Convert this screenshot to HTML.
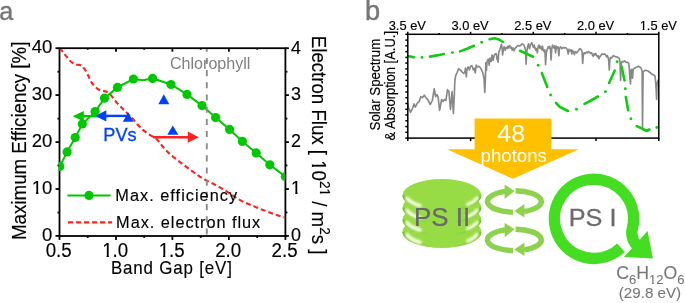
<!DOCTYPE html>
<html><head><meta charset="utf-8"><style>
html,body{margin:0;padding:0;background:#fff;}
body{width:685px;height:303px;position:relative;overflow:hidden;font-family:"Liberation Sans", sans-serif;}
</style></head><body>
<svg xmlns="http://www.w3.org/2000/svg" width="685" height="303" viewBox="0 0 685 303" style="position:absolute;left:0;top:0;will-change:transform">
<defs><clipPath id="ca"><rect x="58.6" y="49.0" width="225.8" height="185.7"/></clipPath>
<clipPath id="cb"><rect x="408" y="34" width="251" height="104"/></clipPath></defs>
<text transform="translate(-0.70,20.00) scale(0.960,1.000)" font-size="26.20" fill="#767676" stroke="#767676" stroke-width="0.40" text-anchor="start" style="font-family:'Liberation Sans', sans-serif">a</text>
<text transform="translate(365.10,20.00)" font-size="27.30" fill="#767676" stroke="#767676" stroke-width="0.40" text-anchor="start" style="font-family:'Liberation Sans', sans-serif">b</text>
<g stroke="#000" stroke-width="1.8" fill="none">
<rect x="59.5" y="48.2" width="225.9" height="187.8"/>
<line x1="59.5" y1="235.9" x2="59.5" y2="239.9"/>
<line x1="87.7" y1="235.9" x2="87.7" y2="237.9"/>
<line x1="87.7" y1="48.2" x2="87.7" y2="49.7"/>
<line x1="116.0" y1="235.9" x2="116.0" y2="239.9"/>
<line x1="116.0" y1="48.2" x2="116.0" y2="51.7"/>
<line x1="144.2" y1="235.9" x2="144.2" y2="237.9"/>
<line x1="144.2" y1="48.2" x2="144.2" y2="49.7"/>
<line x1="172.4" y1="235.9" x2="172.4" y2="239.9"/>
<line x1="172.4" y1="48.2" x2="172.4" y2="51.7"/>
<line x1="200.7" y1="235.9" x2="200.7" y2="237.9"/>
<line x1="200.7" y1="48.2" x2="200.7" y2="49.7"/>
<line x1="228.9" y1="235.9" x2="228.9" y2="239.9"/>
<line x1="228.9" y1="48.2" x2="228.9" y2="51.7"/>
<line x1="257.2" y1="235.9" x2="257.2" y2="237.9"/>
<line x1="257.2" y1="48.2" x2="257.2" y2="49.7"/>
<line x1="285.4" y1="235.9" x2="285.4" y2="239.9"/>
<line x1="59.5" y1="235.9" x2="55.5" y2="235.9"/>
<line x1="285.4" y1="235.9" x2="288.9" y2="235.9"/>
<line x1="59.5" y1="212.5" x2="57.5" y2="212.5"/>
<line x1="285.4" y1="212.5" x2="287.4" y2="212.5"/>
<line x1="59.5" y1="189.0" x2="55.5" y2="189.0"/>
<line x1="285.4" y1="189.0" x2="288.9" y2="189.0"/>
<line x1="59.5" y1="165.5" x2="57.5" y2="165.5"/>
<line x1="285.4" y1="165.5" x2="287.4" y2="165.5"/>
<line x1="59.5" y1="142.1" x2="55.5" y2="142.1"/>
<line x1="285.4" y1="142.1" x2="288.9" y2="142.1"/>
<line x1="59.5" y1="118.6" x2="57.5" y2="118.6"/>
<line x1="285.4" y1="118.6" x2="287.4" y2="118.6"/>
<line x1="59.5" y1="95.1" x2="55.5" y2="95.1"/>
<line x1="285.4" y1="95.1" x2="288.9" y2="95.1"/>
<line x1="59.5" y1="71.7" x2="57.5" y2="71.7"/>
<line x1="285.4" y1="71.7" x2="287.4" y2="71.7"/>
<line x1="59.5" y1="48.2" x2="55.5" y2="48.2"/>
<line x1="285.4" y1="48.2" x2="288.9" y2="48.2"/>
</g>
<g clip-path="url(#ca)">
<polyline points="59.5,48.0 61.0,49.5 65.9,55.9 70.9,61.8 75.8,64.8 79.8,64.9 82.7,66.6 85.7,70.7 88.7,76.6 91.6,82.6 94.6,86.5 98.5,89.5 102.5,90.9 106.4,91.6 110.4,94.4 113.4,98.4 117.3,103.3 121.9,107.9 127.8,113.8 132.7,118.7 137.7,124.7 142.6,129.6 147.6,133.6 151.5,135.9 155.5,137.8 158.4,141.1 164.3,148.5 171.0,155.2 176.9,159.7 183.6,164.9 189.5,169.3 194.7,173.0 199.5,176.4 206.5,180.5 213.4,183.9 219.3,187.1 225.3,190.4 231.0,194.5 237.8,198.8 243.7,202.1 251.6,205.3 259.5,208.7 267.5,211.6 275.4,214.6 281.3,216.6 285.5,217.6" fill="none" stroke="#ff2020" stroke-width="2.1" stroke-dasharray="5,3"/>
<polyline points="59.8,166.4 67.1,151.9 75.2,137.5 82.3,124.0 95.1,111.6 104.5,98.2 117.4,87.4 133.4,79.0 143.0,80.2 152.6,78.4 171.0,84.5 187.0,94.4 202.0,105.6 215.6,117.6 229.6,129.4 242.4,141.4 256.2,152.9 269.8,164.8 285.4,176.6" fill="none" stroke="#00c800" stroke-width="2"/>
<circle cx="59.8" cy="166.4" r="4.6" fill="#00c800"/>
<circle cx="67.1" cy="151.9" r="4.6" fill="#00c800"/>
<circle cx="75.2" cy="137.5" r="4.6" fill="#00c800"/>
<circle cx="82.3" cy="124.0" r="4.6" fill="#00c800"/>
<circle cx="95.1" cy="111.6" r="4.6" fill="#00c800"/>
<circle cx="104.5" cy="98.2" r="4.6" fill="#00c800"/>
<circle cx="117.4" cy="87.4" r="4.6" fill="#00c800"/>
<circle cx="133.4" cy="79.0" r="4.6" fill="#00c800"/>
<circle cx="152.6" cy="78.4" r="4.6" fill="#00c800"/>
<circle cx="171.0" cy="84.5" r="4.6" fill="#00c800"/>
<circle cx="187.0" cy="94.4" r="4.6" fill="#00c800"/>
<circle cx="202.0" cy="105.6" r="4.6" fill="#00c800"/>
<circle cx="215.6" cy="117.6" r="4.6" fill="#00c800"/>
<circle cx="229.6" cy="129.4" r="4.6" fill="#00c800"/>
<circle cx="242.4" cy="141.4" r="4.6" fill="#00c800"/>
<circle cx="256.2" cy="152.9" r="4.6" fill="#00c800"/>
<circle cx="269.8" cy="164.8" r="4.6" fill="#00c800"/>
<circle cx="285.4" cy="176.6" r="4.6" fill="#00c800"/>
<line x1="206.8" y1="48" x2="206.8" y2="236" stroke="#8c8c8c" stroke-width="1.9" stroke-dasharray="6.1,6.08" stroke-dashoffset="2.3"/>
</g>
<line x1="82.8" y1="116.2" x2="108.0" y2="116.2" stroke="#00c800" stroke-width="2.4"/>
<polygon points="72.6,116.2 83.8,111.0 83.8,121.4" fill="#00c800"/>
<line x1="105.3" y1="115.9" x2="128.3" y2="115.9" stroke="#0040ff" stroke-width="2.4"/>
<polygon points="95.4,115.9 106.3,110.2 106.3,121.6" fill="#0040ff"/>
<line x1="153.0" y1="137.2" x2="188.8" y2="137.2" stroke="#ff2020" stroke-width="2.4"/>
<polygon points="198.8,137.2 187.8,131.6 187.8,142.8" fill="#ff2020"/>
<polygon points="128.2,112.3 122.8,121.7 133.6,121.7" fill="#0040ff"/>
<polygon points="163.8,94.3 158.3,104.2 169.3,104.2" fill="#0040ff"/>
<polygon points="172.8,125.4 167.3,134.7 178.3,134.7" fill="#0040ff"/>
<text transform="translate(103.30,141.20) scale(0.985,1.000)" font-size="18.40" fill="#0040ff" stroke="#0040ff" stroke-width="0.30" text-anchor="start" style="font-family:'Liberation Sans', sans-serif">PVs</text>
<text transform="translate(170.00,69.20) scale(1.030,1.000)" font-size="15.60" fill="#808080" text-anchor="start" style="font-family:'Liberation Sans', sans-serif">Chlorophyll</text>
<line x1="67.4" y1="195.4" x2="110.6" y2="195.4" stroke="#00c800" stroke-width="2"/>
<circle cx="89" cy="195.4" r="4.6" fill="#00c800"/>
<text transform="translate(115.30,201.20) scale(0.950,1.000)" font-size="17.20" fill="#000" stroke="#000" stroke-width="0.15" text-anchor="start" style="font-family:'Liberation Sans', sans-serif;letter-spacing:1.06px">Max. efficiency</text>
<line x1="68" y1="222.4" x2="112" y2="222.4" stroke="#ff2020" stroke-width="2.1" stroke-dasharray="5,3"/>
<text transform="translate(116.10,228.00) scale(0.950,1.000)" font-size="17.20" fill="#000" stroke="#000" stroke-width="0.15" text-anchor="start" style="font-family:'Liberation Sans', sans-serif;letter-spacing:1.00px">Max. electron flux</text>
<text transform="translate(52.30,241.15)" font-size="18.50" fill="#000" stroke="#000" stroke-width="0.15" text-anchor="end" style="font-family:'Liberation Sans', sans-serif">0</text>
<text transform="translate(291.10,241.25) scale(0.980,1.000)" font-size="18.30" fill="#000" stroke="#000" stroke-width="0.15" text-anchor="start" style="font-family:'Liberation Sans', sans-serif">0</text>
<text id="tx9" transform="translate(52.30,194.21)" font-size="18.50" fill="#000" stroke="#000" stroke-width="0.15" text-anchor="end" style="font-family:'Liberation Sans', sans-serif">10</text><g transform="translate(52.30,194.21)" fill="#fff"><rect x="-20.09" y="-2.28" width="3.82" height="2.78"/><rect x="-13.94" y="-2.28" width="3.29" height="2.78"/></g>
<text id="tx10" transform="translate(291.10,194.31) scale(0.980,1.000)" font-size="18.30" fill="#000" stroke="#000" stroke-width="0.15" text-anchor="start" style="font-family:'Liberation Sans', sans-serif">1</text><g transform="translate(291.10,194.31) scale(0.980,1.000)" fill="#fff"><rect x="0.47" y="-2.27" width="3.78" height="2.77"/><rect x="6.57" y="-2.27" width="3.26" height="2.77"/></g>
<text transform="translate(52.30,147.27)" font-size="18.50" fill="#000" stroke="#000" stroke-width="0.15" text-anchor="end" style="font-family:'Liberation Sans', sans-serif">20</text>
<text transform="translate(291.10,147.38) scale(0.980,1.000)" font-size="18.30" fill="#000" stroke="#000" stroke-width="0.15" text-anchor="start" style="font-family:'Liberation Sans', sans-serif">2</text>
<text transform="translate(52.30,100.34)" font-size="18.50" fill="#000" stroke="#000" stroke-width="0.15" text-anchor="end" style="font-family:'Liberation Sans', sans-serif">30</text>
<text transform="translate(291.10,100.44) scale(0.980,1.000)" font-size="18.30" fill="#000" stroke="#000" stroke-width="0.15" text-anchor="start" style="font-family:'Liberation Sans', sans-serif">3</text>
<text transform="translate(52.30,53.40)" font-size="18.50" fill="#000" stroke="#000" stroke-width="0.15" text-anchor="end" style="font-family:'Liberation Sans', sans-serif">40</text>
<text transform="translate(291.10,53.50) scale(0.980,1.000)" font-size="18.30" fill="#000" stroke="#000" stroke-width="0.15" text-anchor="start" style="font-family:'Liberation Sans', sans-serif">4</text>
<text transform="translate(58.70,256.80) scale(0.945,1.000)" font-size="19.80" fill="#000" stroke="#000" stroke-width="0.15" text-anchor="middle" style="font-family:'Liberation Sans', sans-serif">0.5</text>
<text id="tx18" transform="translate(115.17,256.80) scale(0.945,1.000)" font-size="19.80" fill="#000" stroke="#000" stroke-width="0.15" text-anchor="middle" style="font-family:'Liberation Sans', sans-serif">1.0</text><g transform="translate(115.17,256.80) scale(0.945,1.000)" fill="#fff"><rect x="-13.20" y="-2.38" width="4.07" height="2.88"/><rect x="-6.68" y="-2.38" width="3.52" height="2.88"/></g>
<text id="tx19" transform="translate(171.65,256.80) scale(0.945,1.000)" font-size="19.80" fill="#000" stroke="#000" stroke-width="0.15" text-anchor="middle" style="font-family:'Liberation Sans', sans-serif">1.5</text><g transform="translate(171.65,256.80) scale(0.945,1.000)" fill="#fff"><rect x="-13.20" y="-2.38" width="4.07" height="2.88"/><rect x="-6.68" y="-2.38" width="3.52" height="2.88"/></g>
<text transform="translate(228.12,256.80) scale(0.945,1.000)" font-size="19.80" fill="#000" stroke="#000" stroke-width="0.15" text-anchor="middle" style="font-family:'Liberation Sans', sans-serif">2.0</text>
<text transform="translate(284.60,256.80) scale(0.945,1.000)" font-size="19.80" fill="#000" stroke="#000" stroke-width="0.15" text-anchor="middle" style="font-family:'Liberation Sans', sans-serif">2.5</text>
<text transform="translate(110.90,273.90) scale(0.930,1.000)" font-size="18.20" fill="#000" stroke="#000" stroke-width="0.15" text-anchor="start" style="font-family:'Liberation Sans', sans-serif;letter-spacing:0.90px">Band Gap [eV]</text>
<text transform="translate(25.90,240.00) rotate(-90) scale(1.089,1.130)" font-size="17.20" fill="#000" stroke="#000" stroke-width="0.15" text-anchor="start" style="font-family:'Liberation Sans', sans-serif">Maximum Efficiency [%]</text>
<text id="tx24" transform="translate(312.20,35.80) rotate(90) scale(1.085,1.130)" font-size="17.20" fill="#000" stroke="#000" stroke-width="0.15" text-anchor="start" style="font-family:'Liberation Sans', sans-serif">Electron Flux [ 10<tspan font-size="12.5" dy="-6.5">21</tspan><tspan dy="6.5"> / m</tspan><tspan font-size="12.5" dy="-6.5">2</tspan><tspan dy="6.5">s ]</tspan></text><g transform="translate(312.20,35.80) rotate(90) scale(1.085,1.130)" fill="#fff"><rect x="115.07" y="-2.18" width="3.57" height="2.68"/><rect x="120.86" y="-2.18" width="3.07" height="2.68"/><rect x="140.88" y="-8.33" width="2.66" height="2.33"/><rect x="145.34" y="-8.33" width="2.24" height="2.33"/></g>
<g clip-path="url(#cb)">
<polyline points="407.4,102.5 408.6,107.5 410.5,112.4 412.9,107.5 413.9,103.9 415.3,107.1 417.3,103.1 419.2,101.5 420.8,96.6 422.4,97.6 424.4,95.2 425.8,97.6 427.7,99.5 430.3,104.5 432.3,100.5 434.3,88.7 435.6,96.6 437.0,94.6 438.2,97.6 439.6,110.4 441.6,99.5 443.0,101.5 444.5,99.5 445.9,100.5 447.5,89.7 448.9,91.6 450.5,109.4 452.1,91.6 453.4,113.4 454.4,93.6 454.8,81.8 455.6,75.8 457.2,72.3 458.7,68.7 460.1,69.9 461.9,71.7 463.5,73.4 464.6,72.8 465.5,68.1 466.3,77.0 467.0,69.3 468.2,66.9 469.4,69.9 470.6,66.3 471.8,65.7 472.6,67.5 473.4,69.9 474.4,68.1 475.3,72.8 476.2,65.1 477.3,66.9 478.5,66.3 479.7,66.9 480.9,68.7 482.1,71.1 483.3,74.6 484.1,79.4 484.8,92.4 485.3,81.8 485.8,62.8 486.4,70.4 487.1,61.5 488.3,59.2 489.2,65.1 490.0,58.0 491.2,61.5 492.1,55.0 493.1,60.3 494.3,55.0 495.5,53.8 496.3,53.8 497.1,59.2 498.1,62.1 498.7,52.6 499.5,50.3 500.4,47.9 501.4,44.3 502.0,47.3 502.6,55.0 503.4,49.1 504.2,46.7 505.2,50.3 506.1,47.3 507.1,48.5 508.0,46.1 508.8,47.9 509.7,45.5 510.5,47.9 511.4,47.3 512.3,50.3 513.3,47.9 514.1,50.8 514.9,48.5 516.1,47.3 517.3,46.1 518.5,45.5 519.7,46.1 520.6,45.3 522.0,43.9 523.5,44.5 524.7,46.9 525.5,50.4 526.1,64.1 526.7,52.8 527.6,46.9 528.5,43.9 529.5,48.7 530.3,45.1 531.1,43.9 531.8,42.7 532.7,45.7 533.5,47.5 534.2,45.1 535.0,48.1 535.9,50.4 536.6,48.7 537.4,52.8 538.0,46.9 538.9,45.1 539.8,48.1 540.6,46.3 541.6,49.8 542.5,46.3 543.3,50.4 544.2,51.6 544.9,49.8 545.6,64.7 546.3,52.8 547.3,49.3 548.1,46.9 548.9,48.1 549.6,46.3 550.5,49.8 551.1,59.9 551.7,49.3 552.5,45.1 553.4,46.9 554.0,48.1 554.8,45.7 555.6,52.8 556.3,46.3 557.2,48.1 558.0,46.9 558.9,55.8 559.5,48.1 560.7,46.9 561.9,48.7 563.1,47.5 564.3,48.1 565.5,47.5 566.7,48.7 567.5,50.4 568.2,54.0 569.0,49.3 570.2,51.0 571.1,49.8 571.8,54.0 572.6,50.4 573.4,51.6 574.4,54.6 575.3,51.6 576.5,52.8 577.7,51.6 578.9,49.8 580.1,48.7 581.3,49.8 582.1,52.2 582.7,63.5 583.3,55.2 584.1,52.8 585.3,53.4 586.5,52.2 587.7,52.8 588.6,51.6 589.4,52.1 590.6,53.3 591.5,52.7 592.3,54.5 593.2,56.3 593.9,53.9 594.7,55.1 595.6,53.3 596.5,55.1 597.5,56.9 598.3,55.7 599.1,58.7 599.8,56.9 600.7,55.7 601.5,54.5 602.2,53.9 603.4,54.5 604.6,53.9 605.8,55.1 606.6,56.9 607.4,55.7 608.1,57.5 608.6,59.8 609.3,69.9 609.8,60.4 610.5,57.5 611.3,58.1 612.2,56.9 613.4,55.7 614.6,56.3 615.7,56.9 616.9,56.9 618.1,57.5 619.3,58.7 620.0,61.6 620.6,80.5 621.2,64.6 622.0,61.5 623.3,61.8 624.6,60.9 625.9,62.3 627.3,62.3 628.6,62.9 629.2,66.9 629.9,78.8 630.5,84.0 631.1,70.0 631.8,69.2 632.5,78.1 633.2,69.5 634.5,68.2 635.8,67.5 637.2,66.9 638.5,66.2 639.8,66.9 641.1,68.2 642.1,70.8 642.5,127.5 643.1,72.2 644.4,70.8 645.7,70.2 647.7,70.8 649.7,72.2 651.7,74.1 653.7,74.8 655.0,76.1 655.6,81.4 656.3,92.0 656.6,99.5 657.0,85.4 657.6,81.4 658.5,80.0" fill="none" stroke="#888888" stroke-width="1.65" stroke-linejoin="round"/>
<polyline points="407.6,56.0 414.0,57.2" fill="none" stroke="#11cc11" stroke-width="2.6" stroke-linecap="round" stroke-linejoin="round"/>
<polyline points="430.0,56.6 437.0,55.4 444.0,54.0" fill="none" stroke="#11cc11" stroke-width="2.6" stroke-linecap="round" stroke-linejoin="round"/>
<polyline points="460.0,51.4 467.0,48.8 474.0,45.8" fill="none" stroke="#11cc11" stroke-width="2.6" stroke-linecap="round" stroke-linejoin="round"/>
<polyline points="489.6,39.2 494.5,38.3 499.0,39.5 503.0,42.0" fill="none" stroke="#11cc11" stroke-width="2.6" stroke-linecap="round" stroke-linejoin="round"/>
<polyline points="520.0,50.8 526.0,53.5 533.0,56.7" fill="none" stroke="#11cc11" stroke-width="2.6" stroke-linecap="round" stroke-linejoin="round"/>
<polyline points="541.8,73.1 547.3,87.0" fill="none" stroke="#11cc11" stroke-width="2.6" stroke-linecap="round" stroke-linejoin="round"/>
<polyline points="556.0,103.0 560.0,107.0 568.0,111.0" fill="none" stroke="#11cc11" stroke-width="2.6" stroke-linecap="round" stroke-linejoin="round"/>
<polyline points="584.5,103.8 591.0,100.5 598.0,96.5" fill="none" stroke="#11cc11" stroke-width="2.6" stroke-linecap="round" stroke-linejoin="round"/>
<polyline points="609.1,83.0 614.7,70.5" fill="none" stroke="#11cc11" stroke-width="2.6" stroke-linecap="round" stroke-linejoin="round"/>
<polyline points="621.6,66.6 624.5,80.4" fill="none" stroke="#11cc11" stroke-width="2.6" stroke-linecap="round" stroke-linejoin="round"/>
<polyline points="625.8,97.0 628.2,110.3" fill="none" stroke="#11cc11" stroke-width="2.6" stroke-linecap="round" stroke-linejoin="round"/>
<polyline points="636.7,126.1 642.0,128.5 646.7,131.0 649.4,129.5" fill="none" stroke="#11cc11" stroke-width="2.6" stroke-linecap="round" stroke-linejoin="round"/>
<circle cx="422.0" cy="57.4" r="1.45" fill="#11cc11"/>
<circle cx="452.4" cy="52.6" r="1.45" fill="#11cc11"/>
<circle cx="481.7" cy="42.3" r="1.45" fill="#11cc11"/>
<circle cx="538.2" cy="65.2" r="1.45" fill="#11cc11"/>
<circle cx="550.6" cy="95.0" r="1.45" fill="#11cc11"/>
<circle cx="576.4" cy="109.2" r="1.45" fill="#11cc11"/>
<circle cx="605.4" cy="91.8" r="1.45" fill="#11cc11"/>
<circle cx="617.2" cy="61.8" r="1.45" fill="#11cc11"/>
<circle cx="625.3" cy="88.7" r="1.45" fill="#11cc11"/>
<circle cx="630.9" cy="118.7" r="1.45" fill="#11cc11"/>
<circle cx="656.8" cy="127.5" r="1.45" fill="#11cc11"/>
</g>
<g stroke="#000" stroke-width="1.5" fill="none">
<rect x="407.8" y="34.3" width="251.0" height="103.8"/>
<line x1="407.8" y1="34.3" x2="407.8" y2="31.8"/>
<line x1="407.8" y1="138.1" x2="407.8" y2="141.1"/>
<line x1="439.2" y1="34.3" x2="439.2" y2="33.1"/>
<line x1="470.6" y1="34.3" x2="470.6" y2="31.8"/>
<line x1="470.6" y1="138.1" x2="470.6" y2="141.1"/>
<line x1="501.9" y1="34.3" x2="501.9" y2="33.1"/>
<line x1="533.3" y1="34.3" x2="533.3" y2="31.8"/>
<line x1="533.3" y1="138.1" x2="533.3" y2="141.1"/>
<line x1="564.7" y1="34.3" x2="564.7" y2="33.1"/>
<line x1="596.0" y1="34.3" x2="596.0" y2="31.8"/>
<line x1="596.0" y1="138.1" x2="596.0" y2="141.1"/>
<line x1="627.4" y1="34.3" x2="627.4" y2="33.1"/>
<line x1="658.8" y1="34.3" x2="658.8" y2="31.8"/>
<line x1="658.8" y1="138.1" x2="658.8" y2="141.1"/>
<line x1="407.8" y1="34.3" x2="405.3" y2="34.3"/>
<line x1="407.8" y1="40.1" x2="405.3" y2="40.1"/>
<line x1="407.8" y1="45.8" x2="405.3" y2="45.8"/>
<line x1="407.8" y1="51.6" x2="405.3" y2="51.6"/>
<line x1="407.8" y1="57.4" x2="405.3" y2="57.4"/>
<line x1="407.8" y1="63.1" x2="405.3" y2="63.1"/>
<line x1="407.8" y1="68.9" x2="405.3" y2="68.9"/>
<line x1="407.8" y1="74.7" x2="405.3" y2="74.7"/>
<line x1="407.8" y1="80.4" x2="405.3" y2="80.4"/>
<line x1="407.8" y1="86.2" x2="405.3" y2="86.2"/>
<line x1="407.8" y1="92.0" x2="405.3" y2="92.0"/>
<line x1="407.8" y1="97.7" x2="405.3" y2="97.7"/>
<line x1="407.8" y1="103.5" x2="405.3" y2="103.5"/>
<line x1="407.8" y1="109.3" x2="405.3" y2="109.3"/>
<line x1="407.8" y1="115.0" x2="405.3" y2="115.0"/>
<line x1="407.8" y1="120.8" x2="405.3" y2="120.8"/>
<line x1="407.8" y1="126.6" x2="405.3" y2="126.6"/>
<line x1="407.8" y1="132.3" x2="405.3" y2="132.3"/>
<line x1="407.8" y1="138.1" x2="405.3" y2="138.1"/>
</g>
<text transform="translate(407.30,30.10) scale(1.075,1.000)" font-size="12.00" fill="#000" stroke="#000" stroke-width="0.15" text-anchor="middle" style="font-family:'Liberation Sans', sans-serif">3.5 eV</text>
<text transform="translate(470.05,30.10) scale(1.075,1.000)" font-size="12.00" fill="#000" stroke="#000" stroke-width="0.15" text-anchor="middle" style="font-family:'Liberation Sans', sans-serif">3.0 eV</text>
<text transform="translate(532.80,30.10) scale(1.075,1.000)" font-size="12.00" fill="#000" stroke="#000" stroke-width="0.15" text-anchor="middle" style="font-family:'Liberation Sans', sans-serif">2.5 eV</text>
<text transform="translate(595.55,30.10) scale(1.075,1.000)" font-size="12.00" fill="#000" stroke="#000" stroke-width="0.15" text-anchor="middle" style="font-family:'Liberation Sans', sans-serif">2.0 eV</text>
<text id="tx29" transform="translate(658.30,30.10) scale(1.075,1.000)" font-size="12.00" fill="#000" stroke="#000" stroke-width="0.15" text-anchor="middle" style="font-family:'Liberation Sans', sans-serif">1.5 eV</text><g transform="translate(658.30,30.10) scale(1.075,1.000)" fill="#fff"><rect x="-17.22" y="-1.80" width="2.56" height="2.30"/><rect x="-12.89" y="-1.80" width="2.15" height="2.30"/></g>
<text transform="translate(379.50,130.50) rotate(-90) scale(1.058,1.150)" font-size="12.60" fill="#000" stroke="#000" stroke-width="0.15" text-anchor="start" style="font-family:'Liberation Sans', sans-serif">Solar Spectrum</text>
<text transform="translate(394.80,140.40) rotate(-90) scale(1.080,1.200)" font-size="12.00" fill="#000" stroke="#000" stroke-width="0.15" text-anchor="start" style="font-family:'Liberation Sans', sans-serif">&amp; Absorption [A.U.]</text>
<polygon points="474.6,118.6 551.4,118.6 551.4,149.2 578.9,149.2 513,178.8 447,149.2 474.6,149.2" fill="#ffc000"/>
<text transform="translate(511.20,142.00) scale(1.060,1.000)" font-size="23.50" fill="#fff" text-anchor="middle" style="font-family:'Liberation Sans', sans-serif">48</text>
<text transform="translate(513.70,161.60) scale(1.020,1.000)" font-size="18.30" fill="#fff" text-anchor="middle" style="font-family:'Liberation Sans', sans-serif">photons</text>
<defs><filter id="bl" x="-50%" y="-50%" width="200%" height="200%"><feGaussianBlur stdDeviation="1.25"/></filter><linearGradient id="gr" x1="402" y1="0" x2="482" y2="0" gradientUnits="userSpaceOnUse"><stop offset="0" stop-color="#6fbf2a" stop-opacity="1"/><stop offset="0.2" stop-color="#7cc836" stop-opacity="0.5"/><stop offset="0.35" stop-color="#7cc836" stop-opacity="0"/><stop offset="0.65" stop-color="#7cc836" stop-opacity="0"/><stop offset="0.8" stop-color="#7cc836" stop-opacity="0.5"/><stop offset="1" stop-color="#6fbf2a" stop-opacity="1"/></linearGradient></defs>
<ellipse cx="441.9" cy="231.8" rx="39.4" ry="16.2" fill="#97db45"/>
<path d="M480.50,231.80 L479.76,234.80 L477.56,237.69 L473.99,240.36 L469.19,242.69 L463.35,244.60 L456.67,246.03 L449.43,246.90 L441.90,247.20 L434.37,246.90 L427.13,246.03 L420.45,244.60 L414.61,242.69 L409.81,240.36 L406.24,237.69 L404.04,234.80 L403.30,231.80" fill="none" stroke="url(#gr)" stroke-width="2.0"/>
<path d="M419.86,242.20 L418.04,241.64 L416.32,241.04 L414.72,240.39 L413.23,239.71 L411.88,238.99 L410.65,238.24 L409.56,237.46 L408.61,236.66 L407.81,235.84 L407.16,234.99" fill="none" stroke="#f8ffe0" stroke-width="3.8" stroke-linecap="round" filter="url(#bl)"/>
<path d="M476.92,234.54 L476.45,235.26 L475.87,235.97 L475.19,236.66 L474.40,237.34 L473.51,238.00 L472.52,238.64 L471.44,239.26 L470.26,239.85 L469.00,240.43 L467.65,240.97" fill="none" stroke="#f8ffe0" stroke-width="3.4" stroke-linecap="round" filter="url(#bl)"/>
<ellipse cx="441.9" cy="219.6" rx="39.4" ry="16.2" fill="#97db45"/>
<path d="M480.50,219.60 L479.76,222.60 L477.56,225.49 L473.99,228.16 L469.19,230.49 L463.35,232.40 L456.67,233.83 L449.43,234.70 L441.90,235.00 L434.37,234.70 L427.13,233.83 L420.45,232.40 L414.61,230.49 L409.81,228.16 L406.24,225.49 L404.04,222.60 L403.30,219.60" fill="none" stroke="url(#gr)" stroke-width="2.0"/>
<path d="M419.86,230.00 L418.04,229.44 L416.32,228.84 L414.72,228.19 L413.23,227.51 L411.88,226.79 L410.65,226.04 L409.56,225.26 L408.61,224.46 L407.81,223.64 L407.16,222.79" fill="none" stroke="#f8ffe0" stroke-width="3.8" stroke-linecap="round" filter="url(#bl)"/>
<path d="M476.92,222.34 L476.45,223.06 L475.87,223.77 L475.19,224.46 L474.40,225.14 L473.51,225.80 L472.52,226.44 L471.44,227.06 L470.26,227.65 L469.00,228.23 L467.65,228.77" fill="none" stroke="#f8ffe0" stroke-width="3.4" stroke-linecap="round" filter="url(#bl)"/>
<ellipse cx="441.9" cy="207.4" rx="39.4" ry="16.2" fill="#97db45"/>
<path d="M480.50,207.40 L479.76,210.40 L477.56,213.29 L473.99,215.96 L469.19,218.29 L463.35,220.20 L456.67,221.63 L449.43,222.50 L441.90,222.80 L434.37,222.50 L427.13,221.63 L420.45,220.20 L414.61,218.29 L409.81,215.96 L406.24,213.29 L404.04,210.40 L403.30,207.40" fill="none" stroke="url(#gr)" stroke-width="2.0"/>
<path d="M419.86,217.80 L418.04,217.24 L416.32,216.64 L414.72,215.99 L413.23,215.31 L411.88,214.59 L410.65,213.84 L409.56,213.06 L408.61,212.26 L407.81,211.44 L407.16,210.59" fill="none" stroke="#f8ffe0" stroke-width="3.8" stroke-linecap="round" filter="url(#bl)"/>
<path d="M476.92,210.14 L476.45,210.86 L475.87,211.57 L475.19,212.26 L474.40,212.94 L473.51,213.60 L472.52,214.24 L471.44,214.86 L470.26,215.45 L469.00,216.03 L467.65,216.57" fill="none" stroke="#f8ffe0" stroke-width="3.4" stroke-linecap="round" filter="url(#bl)"/>
<ellipse cx="441.9" cy="195.2" rx="39.4" ry="16.2" fill="#97db45"/>
<path d="M480.50,195.20 L479.76,198.20 L477.56,201.09 L473.99,203.76 L469.19,206.09 L463.35,208.00 L456.67,209.43 L449.43,210.30 L441.90,210.60 L434.37,210.30 L427.13,209.43 L420.45,208.00 L414.61,206.09 L409.81,203.76 L406.24,201.09 L404.04,198.20 L403.30,195.20" fill="none" stroke="url(#gr)" stroke-width="2.0"/>
<path d="M419.86,205.60 L418.04,205.04 L416.32,204.44 L414.72,203.79 L413.23,203.11 L411.88,202.39 L410.65,201.64 L409.56,200.86 L408.61,200.06 L407.81,199.24 L407.16,198.39" fill="none" stroke="#f8ffe0" stroke-width="3.8" stroke-linecap="round" filter="url(#bl)"/>
<path d="M476.92,197.94 L476.45,198.66 L475.87,199.37 L475.19,200.06 L474.40,200.74 L473.51,201.40 L472.52,202.04 L471.44,202.66 L470.26,203.25 L469.00,203.83 L467.65,204.37" fill="none" stroke="#f8ffe0" stroke-width="3.4" stroke-linecap="round" filter="url(#bl)"/>
<path d="M513.00,212.19 A26.90,10.70 0 0 1 505.50,191.40" fill="none" stroke="#8dd24c" stroke-width="5.4"/>
<polygon points="504.6,184.50 504.6,198.90 514.6,190.90" fill="#8dd24c"/>
<path d="M515.60,190.81 A26.90,10.70 0 0 1 524.00,211.50" fill="none" stroke="#8dd24c" stroke-width="5.4"/>
<polygon points="524.4,204.10 524.4,217.50 514.3,211.10" fill="#8dd24c"/>
<path d="M513.00,250.59 A26.90,10.70 0 0 1 505.50,229.80" fill="none" stroke="#8dd24c" stroke-width="5.4"/>
<polygon points="504.6,222.90 504.6,237.30 514.6,229.30" fill="#8dd24c"/>
<path d="M515.60,229.21 A26.90,10.70 0 0 1 524.00,249.90" fill="none" stroke="#8dd24c" stroke-width="5.4"/>
<polygon points="524.4,242.50 524.4,255.90 514.3,249.50" fill="#8dd24c"/>
<path d="M621.01,247.76 A39.60,39.60 0 1 1 632.42,228.38 C630.9,233.8 632.4,240.8 636.6,244.8" fill="none" stroke="#44dd22" stroke-width="11.4"/>
<polygon points="647.6,231.1 624.0,256.9 652.9,258.4" fill="#44dd22"/>
<text transform="translate(568.80,226.30) scale(1.030,1.000)" font-size="24.50" fill="#6b6b6b" stroke="#6b6b6b" stroke-width="0.30" text-anchor="start" style="font-family:'Liberation Sans', sans-serif">PS I</text>
<text transform="translate(414.00,226.00) scale(1.035,1.000)" font-size="25.00" fill="#6a6672" stroke="#6a6672" stroke-width="0.25" text-anchor="start" style="font-family:'Liberation Sans', sans-serif">PS II</text>
<text id="tx36" transform="translate(616.20,279.10)" font-size="17.70" fill="#777777" stroke="#777777" stroke-width="0.10" text-anchor="start" style="font-family:'Liberation Sans', sans-serif">C<tspan font-size="13" dy="4.6">6</tspan><tspan dy="-4.6">H</tspan><tspan font-size="13" dy="4.6">12</tspan><tspan dy="-4.6">O</tspan><tspan font-size="13" dy="4.6">6</tspan></text><g transform="translate(616.20,279.10)" fill="#fff"><rect x="32.96" y="2.73" width="2.76" height="2.37"/><rect x="37.56" y="2.73" width="2.33" height="2.37"/></g>
<text transform="translate(618.80,297.90) scale(1.010,1.000)" font-size="15.00" fill="#777777" stroke="#777777" stroke-width="0.10" text-anchor="start" style="font-family:'Liberation Sans', sans-serif">(29.8 eV)</text>
</svg>
</body></html>
